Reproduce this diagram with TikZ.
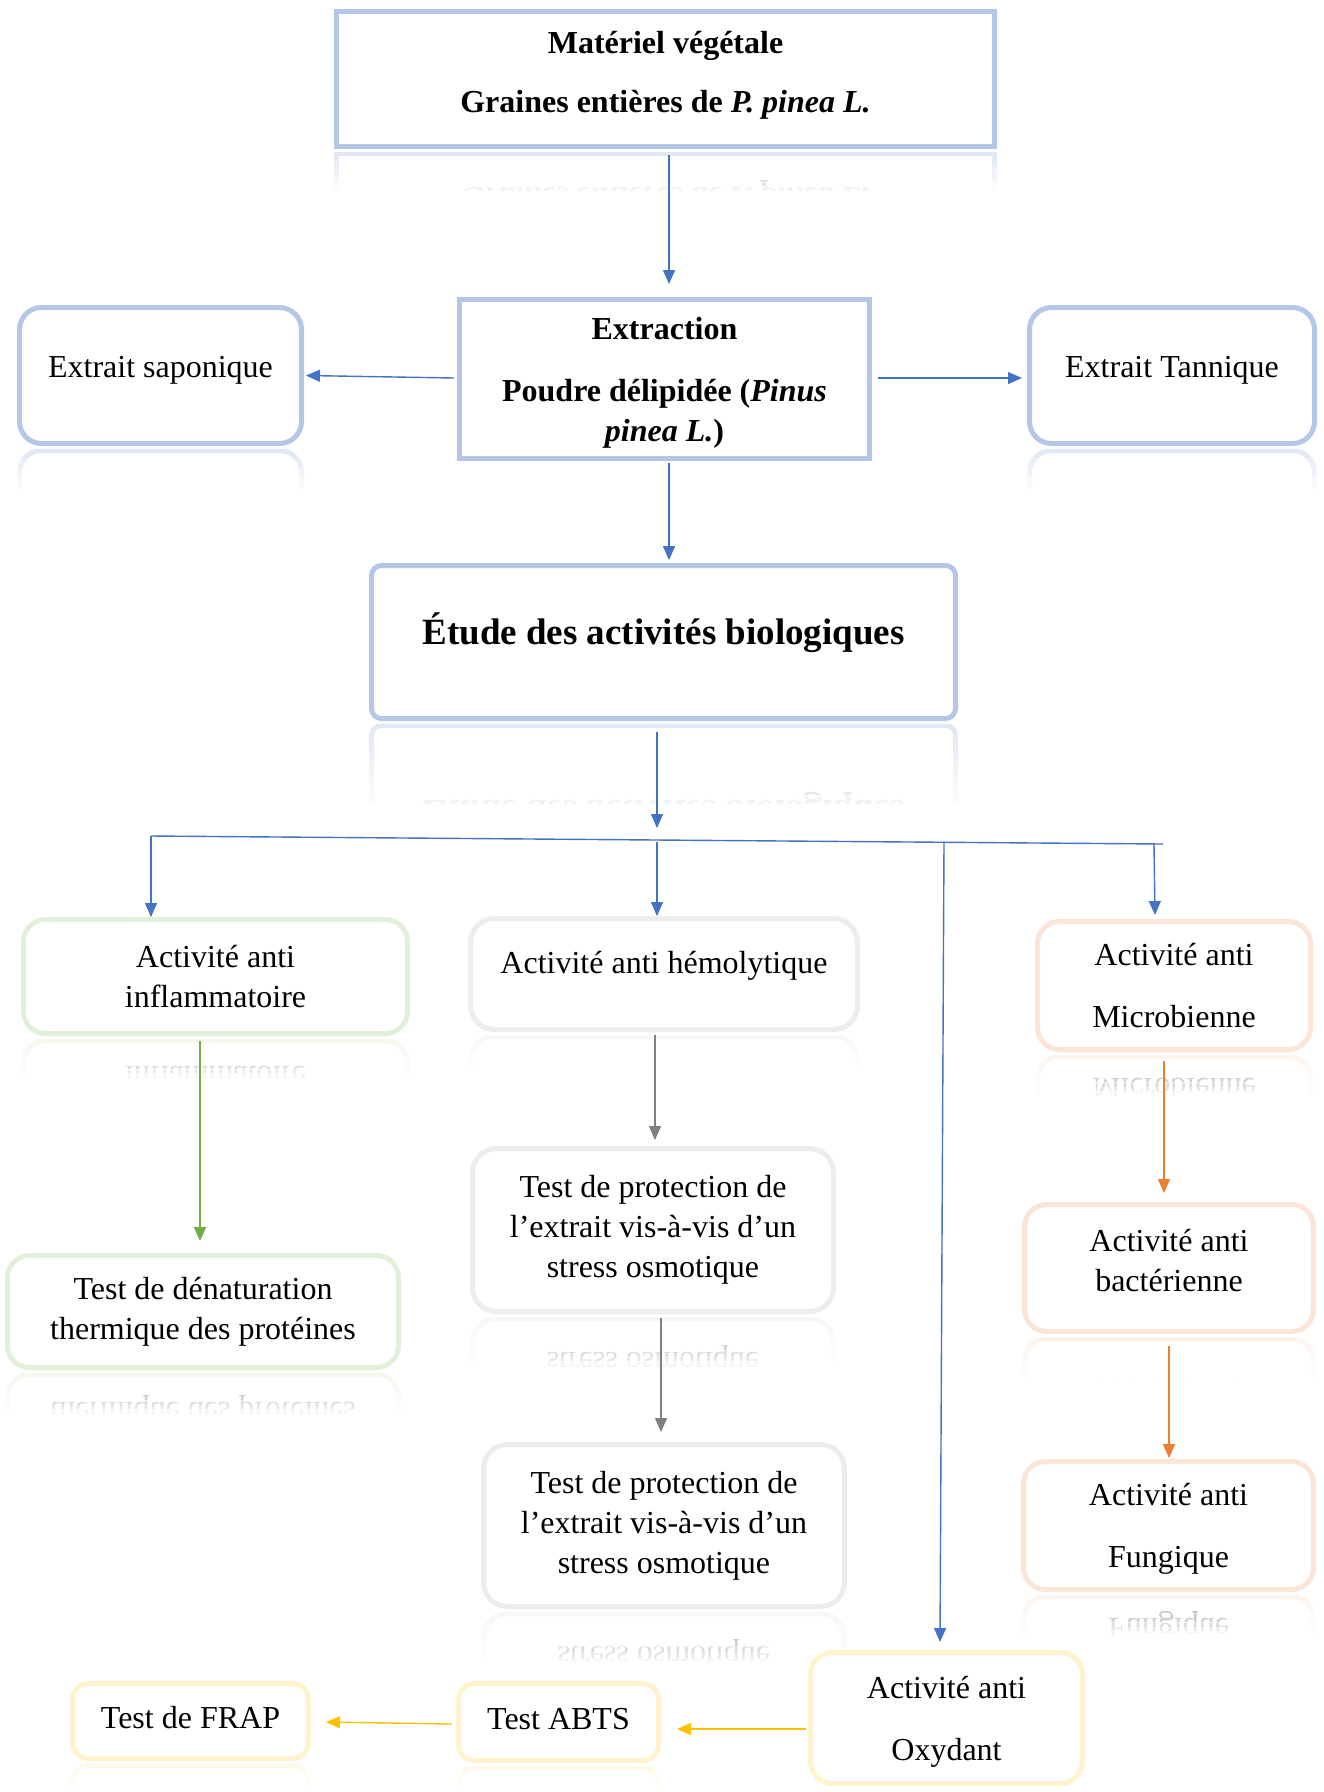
\documentclass[tikz,border=0pt]{standalone}
\usepackage{fontspec}
\setmainfont{Liberation Serif}
\usetikzlibrary{arrows.meta,calc}

\definecolor{bleuclair}{HTML}{B4C7E7}
\definecolor{bleufonce}{HTML}{4472C4}
\definecolor{vertclair}{HTML}{E2F0D9}
\definecolor{vertfonce}{HTML}{70AD47}
\definecolor{grisclair}{HTML}{EDEDED}
\definecolor{grisfonce}{HTML}{7F7F7F}
\definecolor{orangeclair}{HTML}{FBE5D6}
\definecolor{orangefonce}{HTML}{ED7D31}
\definecolor{jauneclair}{HTML}{FFF2CC}
\definecolor{jaunefonce}{HTML}{FFC000}

% boite avec son reflet (#5 = hauteur du reflet)
\newcommand{\boite}[5]{%
  \node[#2] (#1) at (#3) {#4};
  \begin{scope}
    \clip ([xshift=-8pt,yshift=-3pt]#1.south west) rectangle ([xshift=8pt,yshift=-#5pt]#1.south east);
    \node[#2, opacity=.45, yscale=-1] (#1-reflet) at ($(#1.center)!2!([yshift=-1pt]#1.south)$) {\ifdim#5pt<35pt\else#4\fi};
    \foreach \k [evaluate=\k as \op using (\k+1)/10] in {0,...,9}
      \fill[white, opacity=\op] ([xshift=-9pt, yshift={-3-\k*(#5-3)/10}]#1.south west)
        rectangle ([xshift=9pt, yshift={-3-(\k+1)*(#5-3)/10-.5}]#1.south east);
  \end{scope}}

\begin{document}
\begin{tikzpicture}[x=1pt, y=-1pt,
    boite/.style={draw, line width=5pt, fill=white, align=center, inner sep=0pt,
      font=\fontsize{32}{40}\selectfont},
    gras/.style={font=\fontsize{32}{40}\selectfont\bfseries},
    ligne/.style={text height=22pt, text depth=#1},
    bbleu/.style={boite, draw=bleuclair},
    bvert/.style={boite, draw=vertclair, rounded corners=22pt},
    bgris/.style={boite, draw=grisclair, rounded corners=24pt},
    borange/.style={boite, draw=orangeclair, rounded corners=22pt},
    bjaune/.style={boite, draw=jauneclair, rounded corners=16pt},
    fl/.style={-{Triangle[length=14pt,width=12pt]}, line width=1.4pt}]
  \useasboundingbox (0,0) rectangle (1324,1792);

  % matériel et extraction
  \boite{mat}{bbleu, gras, minimum width=658pt, minimum height=135pt, text depth=14pt}{665.5,79}{Matériel végétale\\[19pt]Graines entières de \textit{P. pinea L.}}{46}
  \node[bbleu, gras, minimum width=410pt, minimum height=159pt, text depth=-2pt] (extr) at (664.5,379) {Extraction\\[22pt]Poudre délipidée (\textit{Pinus}\\\textit{pinea L.})};
  \boite{sapo}{bbleu, rounded corners=22pt, minimum width=282pt, minimum height=136pt, ligne=19pt}{160.5,375.5}{Extrait saponique}{50}
  \boite{tann}{bbleu, rounded corners=22pt, minimum width=285pt, minimum height=136pt, ligne=19pt}{1172,375.5}{Extrait Tannique}{50}
  \boite{etude}{bbleu, rounded corners=10pt, minimum width=584pt, minimum height=153pt, font=\fontsize{37}{44}\selectfont\bfseries, text height=30pt, text depth=26pt}{663.5,642}{Étude des activités biologiques}{92}

  % activités
  \boite{infl}{bvert, minimum width=384pt, minimum height=114pt}{215.5,976.5}{Activité anti\\inflammatoire}{46}
  \boite{hemo}{bgris, minimum width=387pt, minimum height=111pt, ligne=24pt}{664,974}{Activité anti hémolytique}{42}
  \boite{micro}{borange, minimum width=273pt, minimum height=128pt, text depth=-7pt}{1174,985.5}{Activité anti\\[22pt]Microbienne}{48}

  % tests
  \boite{denat}{bvert, minimum width=391pt, minimum height=112pt}{203,1311.5}{Test de dénaturation\\thermique des protéines}{48}
  \boite{prot1}{bgris, minimum width=361pt, minimum height=163pt}{653,1230}{Test de protection de\\l’extrait vis-à-vis d’un\\stress osmotique}{58}
  \boite{bact}{borange, minimum width=289pt, minimum height=127pt, text depth=16pt}{1169,1268}{Activité anti\\bactérienne}{48}
  \boite{prot2}{bgris, minimum width=361pt, minimum height=162pt}{664,1525.5}{Test de protection de\\l’extrait vis-à-vis d’un\\stress osmotique}{60}
  \boite{fung}{borange, minimum width=290pt, minimum height=128pt, text depth=-5pt}{1168.5,1525.5}{Activité anti\\[22pt]Fungique}{48}
  \node[bjaune, rounded corners=22pt, minimum width=272pt, minimum height=131pt, text depth=-7pt] (oxy) at (946.5,1718) {Activité anti\\[22pt]Oxydant};
  \boite{abts}{bjaune, minimum width=200pt, minimum height=77pt, ligne=8pt}{558.5,1722}{Test ABTS}{29}
  \boite{frap}{bjaune, minimum width=236pt, minimum height=75pt, ligne=8pt}{190.5,1721}{Test de FRAP}{31}

  % flèches du haut
  \draw[fl, bleufonce] ([xshift=3.5pt,yshift=-6pt]mat.south) -- ([xshift=4.5pt,yshift=13pt]extr.north);
  \draw[fl, bleufonce] ([xshift=-3pt,yshift=1pt]extr.west) -- ([xshift=2pt]sapo.east);
  \draw[fl, bleufonce] ([xshift=6pt,yshift=1pt]extr.east) -- ([xshift=-5pt,yshift=-2.5pt]tann.west);
  \draw[fl, bleufonce] ([xshift=4.5pt,yshift=-2pt]extr.south) -- ([xshift=5.5pt,yshift=3pt]etude.north);

  % barre de distribution
  \coordinate (hub) at (657,828);
  \coordinate (barg) at (151,836);
  \coordinate (bard) at (1163,844);
  \coordinate (bh) at (657,842);
  \coordinate (bo) at (944,843);
  \coordinate (bm) at (1154,844);
  \draw[fl, bleufonce] ([xshift=-6.5pt,yshift=-11pt]etude.south) -- (hub);
  \draw[bleufonce, line width=1.4pt] (barg) -- (bard);
  \draw[fl, bleufonce] (barg) -- (barg |- infl.north);
  \draw[fl, bleufonce] (bh) -- (bh |- hemo.north);
  \draw[fl, bleufonce] (bo) -- ([xshift=-6.5pt,yshift=8pt]oxy.north);
  \draw[fl, bleufonce] (bm) -- ([xshift=-19pt,yshift=4pt]micro.north);

  % flèches des tests
  \draw[fl, vertfonce] ([xshift=-15.5pt,yshift=-5pt]infl.south) -- ([xshift=-3pt,yshift=12pt]denat.north);
  \draw[fl, grisfonce] ([xshift=-9pt,yshift=-3pt]hemo.south) -- ([xshift=2pt,yshift=6pt]prot1.north);
  \draw[fl, grisfonce] ([xshift=8pt,yshift=-4pt]prot1.south) -- ([xshift=-3pt,yshift=10pt]prot2.north);
  \draw[fl, orangefonce] ([xshift=-10pt,yshift=-9pt]micro.south) -- ([xshift=-5pt,yshift=9pt]bact.north);
  \draw[fl, orangefonce] ([yshift=-12pt]bact.south) -- ([xshift=.5pt,yshift=1pt]fung.north);
  \draw[fl, jaunefonce] ([xshift=-2pt,yshift=-11pt]oxy.west) -- ([xshift=16pt,yshift=-7pt]abts.east);
  \draw[fl, jaunefonce] ([xshift=-4pt,yshift=-2pt]abts.west) -- ([xshift=15pt,yshift=-1pt]frap.east);
\end{tikzpicture}
\end{document}
